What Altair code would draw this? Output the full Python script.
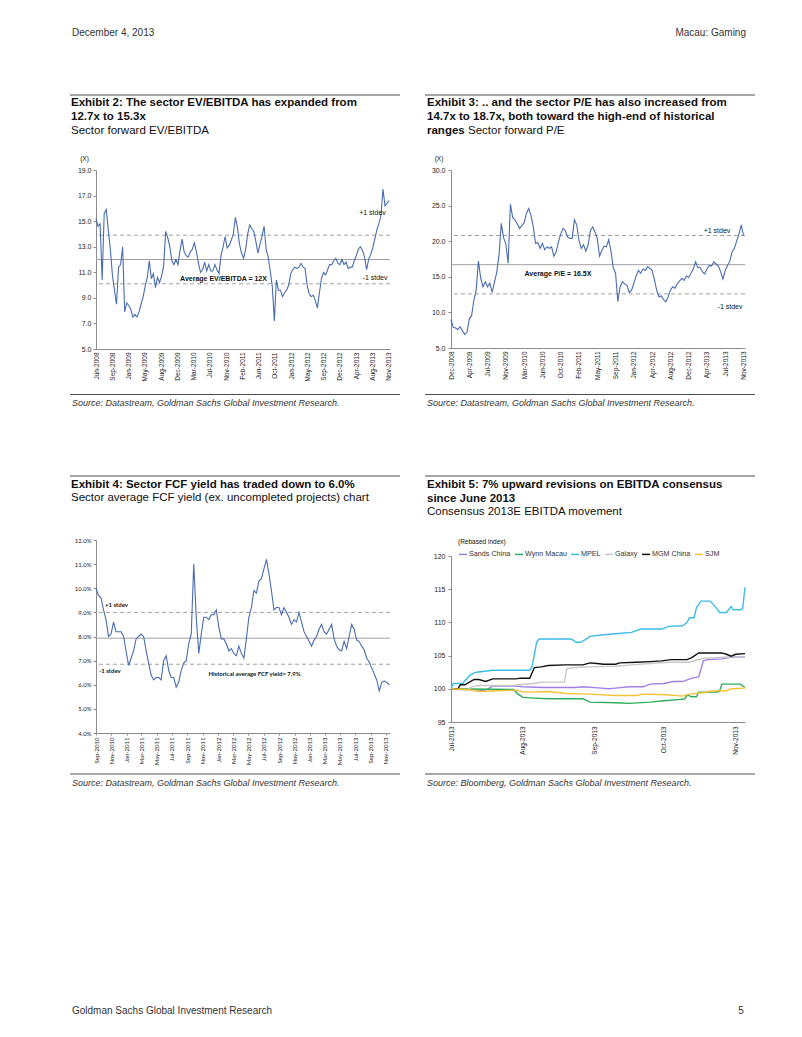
import altair as alt
import pandas as pd

SANS = "Liberation Sans"
CALI = "Lato"
LINE_BLUE = "#4A6CB0"
REF_GREY = "#A0A0A0"
AXIS_GREY = "#8C8C8C"

# ---------------- Exhibit 2: EV/EBITDA (fortnightly readings) ----------------
EV_START = "2008-06-02"
EV_END = "2013-12-01"
EV_VALUES = [
    15.2, 14.6, 14.8, 10.4, 15.6, 15.9, 14.3, 12.8, 10.8, 9.6,
    8.5, 11.4, 11.6, 13.0, 7.9, 8.6, 8.4, 8.1, 7.5, 7.7,
    7.5, 7.9, 8.5, 9.1, 9.9, 10.6, 11.9, 10.5, 10.9, 9.8,
    10.6, 10.2, 10.7, 11.5, 14.2, 13.7, 13.0, 11.9, 11.6, 12.0,
    11.6, 12.7, 13.6, 12.6, 12.3, 12.2, 12.6, 12.8, 13.3, 12.6,
    11.7, 11.0, 11.2, 11.8, 11.1, 11.6, 11.1, 11.1, 11.6, 11.2,
    10.9, 12.3, 13.0, 13.8, 12.9, 13.1, 13.5, 14.0, 15.3, 14.5,
    13.2, 12.5, 12.1, 12.8, 14.0, 14.7, 14.4, 14.2, 13.4, 12.5,
    13.2, 13.8, 14.6, 12.8, 12.2, 11.1, 9.9, 7.2, 10.4, 9.6,
    9.6, 9.1, 9.4, 9.6, 10.0, 10.9, 11.2, 11.4, 11.3, 11.4,
    11.7, 11.4, 11.3, 10.0, 9.3, 9.1, 9.2, 8.8, 8.2, 9.4,
    10.5, 11.0, 10.8, 11.2, 11.6, 11.6, 11.9, 12.1, 11.7, 11.6,
    12.0, 11.6, 11.8, 11.3, 11.4, 11.4, 11.9, 12.3, 12.8, 13.0,
    12.7, 12.2, 11.2, 12.0, 12.4, 12.9, 13.6, 14.3, 14.8, 15.4,
    17.5, 16.2, 16.4, 16.6,
]
EV_TICKS = ["2008-06-02", "2008-09-21", "2009-01-10", "2009-05-01", "2009-08-20",
            "2009-12-09", "2010-03-30", "2010-07-19", "2010-11-07", "2011-02-26",
            "2011-06-17", "2011-10-06", "2012-01-25", "2012-05-15", "2012-09-03",
            "2012-12-23", "2013-04-13", "2013-08-02", "2013-11-21"]
EV_Y_TICKS = [5, 7, 9, 11, 13, 15, 17, 19]
EV_MEAN, EV_PLUS, EV_MINUS = 12.0, 13.9, 10.1

# ---------------- Exhibit 3: P/E (fortnightly readings) ----------------
PE_START = "2008-12-15"
PE_END = "2013-11-20"
PE_VALUES = [
    9.0, 7.9, 7.8, 7.6, 8.0, 7.4, 6.9, 7.2, 9.1, 9.5,
    11.7, 13.1, 17.2, 14.8, 13.6, 14.3, 13.6, 14.1, 12.8, 14.2,
    15.6, 18.0, 22.5, 20.5, 19.6, 16.9, 25.2, 23.3, 23.0, 22.4,
    21.8, 22.2, 22.6, 23.9, 24.6, 23.6, 22.0, 19.7, 19.8, 19.0,
    19.7, 18.8, 19.2, 19.0, 19.2, 17.9, 18.5, 19.9, 21.0, 21.8,
    21.5, 20.6, 20.4, 20.4, 23.0, 22.3, 20.1, 19.0, 19.5, 18.6,
    19.5, 21.5, 22.0, 21.3, 20.4, 17.9, 18.7, 19.3, 19.2, 20.2,
    18.6, 16.3, 15.5, 11.5, 13.6, 14.3, 14.0, 13.8, 12.8, 13.1,
    14.1, 15.1, 15.9, 15.5, 16.1, 15.9, 16.4, 16.2, 15.9, 14.6,
    13.1, 12.2, 12.3, 11.8, 11.5, 12.2, 13.1, 13.6, 13.4, 14.0,
    14.4, 14.8, 14.5, 15.1, 14.9, 15.5, 16.1, 17.1, 16.3, 16.3,
    15.7, 15.4, 16.1, 16.6, 16.5, 17.1, 16.8, 16.5, 15.7, 14.7,
    15.9, 16.6, 17.2, 18.5, 19.0, 20.0, 21.0, 22.3, 20.8,
]
PE_TICKS = ["2008-12-15", "2009-04-06", "2009-07-27", "2009-11-16", "2010-03-08",
            "2010-06-28", "2010-10-18", "2011-02-07", "2011-05-30", "2011-09-19",
            "2012-01-09", "2012-04-30", "2012-08-20", "2012-12-10", "2013-04-01",
            "2013-07-22", "2013-11-11"]
PE_Y_TICKS = [5, 10, 15, 20, 25, 30]
PE_MEAN, PE_PLUS, PE_MINUS = 16.7, 20.8, 12.6

# ---------------- Exhibit 4: FCF yield (10-day readings, %) ----------------
FCF_START = "2010-09-01"
FCF_END = "2013-11-17"
FCF_VALUES = [
    10.0, 9.7, 9.6, 9.1, 8.7, 8.0, 8.1, 8.6, 8.2, 8.2,
    8.2, 8.0, 7.4, 6.8, 7.1, 7.4, 7.9, 8.0, 8.1, 8.0,
    7.4, 6.9, 6.4, 6.2, 6.3, 6.3, 6.2, 7.0, 7.2, 6.6,
    6.3, 6.3, 5.9, 6.1, 6.6, 6.9, 7.0, 7.7, 8.1, 11.0,
    8.8, 7.3, 8.1, 8.8, 8.8, 8.7, 8.9, 8.9, 9.1, 8.4,
    7.9, 7.9, 7.7, 7.4, 7.5, 7.3, 7.2, 7.6, 7.3, 7.1,
    7.9, 8.8, 9.2, 9.9, 9.8, 10.3, 10.4, 10.8, 11.2, 10.6,
    9.9, 9.1, 9.2, 9.2, 8.9, 9.2, 9.0, 8.8, 8.5, 8.7,
    8.6, 9.0, 8.6, 8.2, 8.0, 7.8, 7.6, 7.85, 8.0, 8.3,
    8.5, 8.2, 8.1, 8.3, 8.5, 7.9, 7.6, 7.45, 7.4, 7.8,
    7.5, 8.0, 8.5, 8.3, 7.85, 7.8, 7.6, 7.45, 7.1, 6.95,
    6.7, 6.45, 6.2, 5.75, 6.1, 6.15, 6.1, 6.0,
]
FCF_TICKS = ["2010-09-01", "2010-11-01", "2011-01-01", "2011-03-01", "2011-05-01",
             "2011-07-01", "2011-09-01", "2011-11-01", "2012-01-01", "2012-03-01",
             "2012-05-01", "2012-07-01", "2012-09-01", "2012-11-01", "2013-01-01",
             "2013-03-01", "2013-05-01", "2013-07-01", "2013-09-01", "2013-11-01"]
FCF_Y_TICKS = [4, 5, 6, 7, 8, 9, 10, 11, 12]
FCF_MEAN, FCF_PLUS, FCF_MINUS = 7.93, 9.0, 6.85

# ---------------- Exhibit 5: consensus EBITDA (rebased index) ----------------
SERIES = ["Sands China", "Wynn Macau", "MPEL", "Galaxy", "MGM China", "SJM"]
SERIES_COLORS = ["#A080E6", "#2EAE5A", "#3DBBE8", "#C8C8C8", "#111111", "#F5C236"]

SANDS_DATES = ["2013-07-01", "2013-07-08", "2013-07-13", "2013-07-16", "2013-07-19", "2013-07-29",
               "2013-08-01", "2013-08-10", "2013-08-24", "2013-08-27", "2013-09-04", "2013-09-07",
               "2013-09-10", "2013-09-16", "2013-09-22", "2013-09-25", "2013-10-01", "2013-10-05",
               "2013-10-09", "2013-10-10", "2013-10-13", "2013-10-16", "2013-10-18", "2013-10-20",
               "2013-10-26", "2013-10-31", "2013-11-05"]
SANDS_VALUES = [100.0, 99.9, 99.7, 99.8, 100.4, 100.4, 100.3, 100.2, 100.2, 100.3, 100.1, 100.0,
                100.1, 100.3, 100.3, 100.7, 100.8, 101.1, 101.1, 101.2, 101.6, 101.8, 104.2, 104.4,
                104.5, 104.8, 104.8]
WYNN_DATES = ["2013-07-01", "2013-07-28", "2013-07-30", "2013-08-01", "2013-08-06", "2013-08-12",
              "2013-08-27", "2013-08-30", "2013-09-10", "2013-09-16", "2013-09-25", "2013-10-01",
              "2013-10-08", "2013-10-10", "2013-10-11", "2013-10-13", "2013-10-15", "2013-10-16",
              "2013-10-24", "2013-10-25", "2013-10-26", "2013-11-03", "2013-11-05"]
WYNN_VALUES = [100.0, 99.9, 99.2, 98.7, 98.6, 98.5, 98.5, 98.0, 97.9, 97.8, 98.0, 98.2,
               98.4, 98.5, 99.1, 98.8, 98.8, 99.5, 99.5, 99.6, 100.7, 100.7, 100.2]
MPEL_DATES = ["2013-07-01", "2013-07-02", "2013-07-06", "2013-07-09", "2013-07-10", "2013-07-12",
              "2013-07-19", "2013-08-04", "2013-08-05", "2013-08-07", "2013-08-08", "2013-08-22",
              "2013-08-24", "2013-08-26", "2013-08-28", "2013-08-30", "2013-09-04", "2013-09-10",
              "2013-09-17", "2013-09-21", "2013-09-30", "2013-10-03", "2013-10-09", "2013-10-11",
              "2013-10-12", "2013-10-14", "2013-10-15", "2013-10-17", "2013-10-21", "2013-10-24",
              "2013-10-25", "2013-10-28", "2013-10-30", "2013-10-31", "2013-11-03", "2013-11-04",
              "2013-11-05"]
MPEL_VALUES = [100.0, 100.8, 100.8, 102.0, 102.2, 102.5, 102.8, 102.8, 103.3, 107.0, 107.5, 107.5,
               107.0, 107.0, 107.4, 107.9, 108.1, 108.3, 108.5, 109.0, 109.0, 109.4, 109.5, 110.0,
               110.7, 110.7, 112.2, 113.2, 113.2, 112.0, 111.5, 111.5, 112.4, 111.9, 111.9, 112.1,
               115.3]
GALAXY_DATES = ["2013-07-01", "2013-07-03", "2013-07-08", "2013-07-10", "2013-07-13", "2013-07-28",
                "2013-07-30", "2013-08-06", "2013-08-09", "2013-08-19", "2013-08-20", "2013-08-23",
                "2013-08-30", "2013-09-10", "2013-09-17", "2013-09-25", "2013-10-03", "2013-10-12",
                "2013-10-15", "2013-10-18", "2013-10-23", "2013-10-29", "2013-11-05"]
GALAXY_VALUES = [100.0, 99.9, 99.8, 100.3, 100.5, 100.5, 100.6, 100.8, 101.0, 101.0, 103.0, 103.2,
                 103.3, 103.4, 103.6, 103.8, 104.0, 104.0, 104.3, 104.6, 104.7, 104.8, 104.8]
MGM_DATES = ["2013-07-01", "2013-07-04", "2013-07-05", "2013-07-07", "2013-07-09", "2013-07-11",
             "2013-07-13", "2013-07-16", "2013-07-19", "2013-07-29", "2013-07-31", "2013-08-04",
             "2013-08-06", "2013-08-09", "2013-08-12", "2013-08-19", "2013-08-27", "2013-08-30",
             "2013-09-02", "2013-09-05", "2013-09-10", "2013-09-12", "2013-09-19", "2013-09-25",
             "2013-09-30", "2013-10-04", "2013-10-11", "2013-10-13", "2013-10-16", "2013-10-26",
             "2013-10-28", "2013-10-30", "2013-11-01", "2013-11-05"]
MGM_VALUES = [100.0, 100.0, 100.6, 100.6, 101.0, 101.4, 101.4, 101.1, 101.5, 101.5, 101.6, 101.6,
              103.2, 103.3, 103.5, 103.6, 103.6, 103.9, 103.8, 103.7, 103.7, 103.9, 104.0, 104.1,
              104.2, 104.4, 104.4, 104.7, 105.4, 105.4, 105.2, 104.9, 105.2, 105.3]
SJM_DATES = ["2013-07-01", "2013-07-08", "2013-07-14", "2013-07-21", "2013-07-29", "2013-08-02",
             "2013-08-12", "2013-08-20", "2013-08-30", "2013-09-10", "2013-09-19", "2013-09-22",
             "2013-10-02", "2013-10-09", "2013-10-12", "2013-10-18", "2013-10-20", "2013-10-24",
             "2013-10-28", "2013-10-30", "2013-11-05"]
SJM_VALUES = [100.0, 99.9, 99.6, 99.7, 99.8, 99.5, 99.6, 99.3, 99.2, 99.0, 99.0, 99.2,
              99.1, 98.9, 99.2, 99.4, 99.6, 99.7, 99.7, 100.0, 100.1]
EB_START = "2013-07-01"
EB_END = "2013-11-05"
EB_TICKS = ["2013-07-01", "2013-08-01", "2013-09-01", "2013-10-01", "2013-11-01"]
EB_Y_TICKS = [95, 100, 105, 110, 115, 120]

ONE = pd.DataFrame({"k": [0]})


def dt(s):
    t = pd.Timestamp(s)
    return alt.DateTime(year=t.year, month=t.month, date=t.day)


class Panel:
    """Helper that converts page positions to plot-area positions for annotations."""

    def __init__(self, ox, oy):
        self.ox, self.oy = ox, oy

    def text(self, px, py, txt, size, weight="normal", style="normal", align="left",
             font=SANS, color="#111111"):
        return alt.Chart(ONE).mark_text(
            text=txt, fontSize=size, fontWeight=weight, fontStyle=style, align=align,
            baseline="middle", font=font, color=color
        ).encode(x=alt.value(px - self.ox), y=alt.value(py - self.oy))

    def hrule(self, x1, x2, py, color="#4D4D4D", width=1.0):
        return alt.Chart(ONE).mark_rule(color=color, strokeWidth=width).encode(
            x=alt.value(x1 - self.ox), x2=alt.value(x2 - self.ox), y=alt.value(py - self.oy))

    def frame(self, x1, y1, x2, y2):
        return alt.Chart(ONE).mark_rule(opacity=0).encode(
            x=alt.value(x1 - self.ox), x2=alt.value(x2 - self.ox),
            y=alt.value(y1 - self.oy), y2=alt.value(y2 - self.oy))


def ref_lines(mean, plus, minus, yscale, yaxis):
    out = []
    for v, dash in [(mean, None), (plus, [4, 3]), (minus, [4, 3])]:
        kw = dict(color=REF_GREY, strokeWidth=1)
        if dash:
            kw["strokeDash"] = dash
        out.append(alt.Chart(ONE).mark_rule(**kw).encode(
            y=alt.YDatum(v, scale=yscale, axis=yaxis)))
    return out


def x_axis(ticks, font=SANS, size=6.5, tick=False, pad=3):
    return alt.Axis(values=[dt(s) for s in ticks], format="%b-%Y", labelAngle=270,
                    labelAlign="right", labelBaseline="middle", labelFontSize=size,
                    labelFont=font, ticks=tick, tickSize=2, labelPadding=pad,
                    grid=False, title=None, domainColor=AXIS_GREY, tickColor=AXIS_GREY,
                    labelColor="#222222", labelOverlap=False, labelFlush=False)


def y_axis(vals, font=SANS, size=7, fmt=".1f", expr=None, pad=2):
    kw = dict(values=vals, labelFontSize=size, labelFont=font, tickSize=3, labelPadding=pad,
              grid=False, title=None, domainColor=AXIS_GREY, tickColor=AXIS_GREY,
              labelColor="#222222", labelOverlap=False, labelFlush=False, labelBound=False)
    if expr:
        kw["labelExpr"] = expr
    else:
        kw["format"] = fmt
    return alt.Axis(**kw)


# ---------------- Panel 1 ----------------
P1 = Panel(96, 170)
ev_df = pd.DataFrame({"date": pd.date_range(EV_START, periods=len(EV_VALUES), freq="14D"),
                      "value": EV_VALUES})
ev_ys = alt.Scale(domain=[5, 19], nice=False, zero=False)
ev_ya = y_axis(EV_Y_TICKS, pad=2)
ev_line = alt.Chart(ev_df).mark_line(color=LINE_BLUE, strokeWidth=1.1).encode(
    x=alt.X("date:T", scale=alt.Scale(domain=[dt(EV_START), dt(EV_END)]), axis=x_axis(EV_TICKS)),
    y=alt.Y("value:Q", scale=ev_ys, axis=ev_ya))
p1 = alt.layer(
    P1.frame(8, 8, 412, 440),
    *ref_lines(EV_MEAN, EV_PLUS, EV_MINUS, ev_ys, ev_ya),
    ev_line,
    P1.text(72, 33, "December 4, 2013", 10, color="#333333"),
    P1.hrule(70, 400, 95),
    P1.text(71, 102.5, "Exhibit 2: The sector EV/EBITDA has expanded from", 11.5, weight="bold"),
    P1.text(71, 116.5, "12.7x to 15.3x", 11.5, weight="bold"),
    P1.text(71, 130.5, "Sector forward EV/EBITDA", 11.5),
    P1.text(84.5, 159, "(X)", 6.5, align="center"),
    P1.text(372.5, 213, "+1 stdev", 7, align="center"),
    P1.text(375, 278, "-1 stdev", 7, align="center"),
    P1.text(223.5, 279, "Average EV/EBITDA = 12X", 7, weight="bold", align="center"),
    P1.hrule(70, 400, 394.5),
    P1.text(72, 403, "Source: Datastream, Goldman Sachs Global Investment Research.", 9,
            style="italic", color="#333333"),
).properties(width=294, height=179)

# ---------------- Panel 2 ----------------
P2 = Panel(451, 170)
pe_df = pd.DataFrame({"date": pd.date_range(PE_START, periods=len(PE_VALUES), freq="14D"),
                      "value": PE_VALUES})
pe_ys = alt.Scale(domain=[5, 30], nice=False, zero=False)
pe_ya = y_axis(PE_Y_TICKS, pad=3)
pe_line = alt.Chart(pe_df).mark_line(color=LINE_BLUE, strokeWidth=1.1).encode(
    x=alt.X("date:T", scale=alt.Scale(domain=[dt(PE_START), dt(PE_END)]), axis=x_axis(PE_TICKS)),
    y=alt.Y("value:Q", scale=pe_ys, axis=pe_ya))
p2 = alt.layer(
    P2.frame(412, 8, 794, 440),
    *ref_lines(PE_MEAN, PE_PLUS, PE_MINUS, pe_ys, pe_ya),
    pe_line,
    P2.text(746, 33, "Macau: Gaming", 10, align="right", color="#333333"),
    P2.hrule(425, 755, 95),
    P2.text(427, 102.5, "Exhibit 3: .. and the sector P/E has also increased from", 11.5, weight="bold"),
    P2.text(427, 116.5, "14.7x to 18.7x, both toward the high-end of historical", 11.5, weight="bold"),
    P2.text(427, 130.5, "ranges", 11.5, weight="bold"),
    P2.text(468, 130.5, "Sector forward P/E", 11.5),
    P2.text(439, 159, "(X)", 6.5, align="center"),
    P2.text(717, 231, "+1 stdev", 7, align="center"),
    P2.text(730, 307, "-1 stdev", 7, align="center"),
    P2.text(558, 274, "Average P/E = 16.5X", 7, weight="bold", align="center"),
    P2.hrule(425, 755, 394.5),
    P2.text(427, 403, "Source: Datastream, Goldman Sachs Global Investment Research.", 9,
            style="italic", color="#333333"),
).properties(width=294, height=178)

# ---------------- Panel 3 ----------------
P3 = Panel(96, 540)
fcf_df = pd.DataFrame({"date": pd.date_range(FCF_START, periods=len(FCF_VALUES), freq="10D"),
                       "value": FCF_VALUES})
fcf_ys = alt.Scale(domain=[4, 12], nice=False, zero=False)
fcf_ya = y_axis(FCF_Y_TICKS, font=CALI, size=6, expr="format(datum.value, '.1f') + '%'", pad=2)
fcf_line = alt.Chart(fcf_df).mark_line(color=LINE_BLUE, strokeWidth=1.1).encode(
    x=alt.X("date:T", scale=alt.Scale(domain=[dt(FCF_START), dt(FCF_END)]),
            axis=x_axis(FCF_TICKS, font=CALI, size=6, tick=True, pad=2)),
    y=alt.Y("value:Q", scale=fcf_ys, axis=fcf_ya))
p3 = alt.layer(
    P3.frame(8, 440, 412, 1029),
    *ref_lines(FCF_MEAN, FCF_PLUS, FCF_MINUS, fcf_ys, fcf_ya),
    fcf_line,
    P3.hrule(70, 400, 476),
    P3.text(71, 484.5, "Exhibit 4: Sector FCF yield has traded down to 6.0%", 11.5, weight="bold"),
    P3.text(71, 498, "Sector average FCF yield (ex. uncompleted projects) chart", 11.5),
    P3.text(105, 605, "+1 stdev", 6, weight="bold", font=CALI),
    P3.text(99, 671, "-1 stdev", 6, weight="bold", font=CALI),
    P3.text(254.5, 674, "Historical average FCF yield= 7.9%", 6, weight="bold", font=CALI,
            align="center"),
    P3.hrule(70, 400, 774),
    P3.text(72, 783, "Source: Datastream, Goldman Sachs Global Investment Research.", 9,
            style="italic", color="#333333"),
    P3.text(72, 1011, "Goldman Sachs Global Investment Research", 10, color="#333333"),
).properties(width=294, height=193)

# ---------------- Panel 4 ----------------
P4 = Panel(451, 556)
eb_rows = []
for name, dates, vals in [
    ("Sands China", SANDS_DATES, SANDS_VALUES),
    ("Wynn Macau", WYNN_DATES, WYNN_VALUES),
    ("MPEL", MPEL_DATES, MPEL_VALUES),
    ("Galaxy", GALAXY_DATES, GALAXY_VALUES),
    ("MGM China", MGM_DATES, MGM_VALUES),
    ("SJM", SJM_DATES, SJM_VALUES),
]:
    for d, v in zip(dates, vals):
        eb_rows.append({"series": name, "date": pd.Timestamp(d), "value": v})
eb_df = pd.DataFrame(eb_rows)
eb_lines = alt.Chart(eb_df).mark_line(strokeWidth=1.4).encode(
    x=alt.X("date:T", scale=alt.Scale(domain=[dt(EB_START), dt(EB_END)]),
            axis=x_axis(EB_TICKS, size=6.5, pad=4)),
    y=alt.Y("value:Q", scale=alt.Scale(domain=[95, 120], nice=False, zero=False),
            axis=y_axis(EB_Y_TICKS, size=7, fmt="d", pad=3)),
    color=alt.Color("series:N", scale=alt.Scale(domain=SERIES, range=SERIES_COLORS),
                    legend=alt.Legend(orient="none", legendX=7, legendY=-7, direction="horizontal",
                                      title=None, symbolType="stroke", symbolSize=64,
                                      symbolStrokeWidth=1.5, labelFontSize=7.2, labelFont=SANS,
                                      labelColor="#333333", labelOffset=1, columnPadding=1,
                                      padding=0)),
    detail="series:N")
p4 = alt.layer(
    P4.frame(412, 440, 794, 1029),
    eb_lines,
    P4.hrule(425, 755, 476),
    P4.text(427, 485, "Exhibit 5: 7% upward revisions on EBITDA consensus", 11.5, weight="bold"),
    P4.text(427, 498.5, "since June 2013", 11.5, weight="bold"),
    P4.text(427, 512, "Consensus 2013E EBITDA movement", 11.5),
    P4.text(458, 542, "(Rebased index)", 6.5),
    P4.hrule(425, 755, 774),
    P4.text(427, 783, "Source: Bloomberg, Goldman Sachs Global Investment Research.", 9,
            style="italic", color="#333333"),
    P4.text(741, 1011, "5", 10, align="center", color="#333333"),
).properties(width=294, height=166)

left_col = alt.vconcat(p1, p3, spacing=0).resolve_legend(color="independent")
right_col = alt.vconcat(p2, p4, spacing=0).resolve_legend(color="independent")

chart = alt.hconcat(left_col, right_col, spacing=0).resolve_legend(
    color="independent"
).properties(padding=0, background="white").configure_view(stroke=None).configure_axis(
    grid=False)

chart.save("out.html", embed_options={"renderer": "svg", "actions": False})
